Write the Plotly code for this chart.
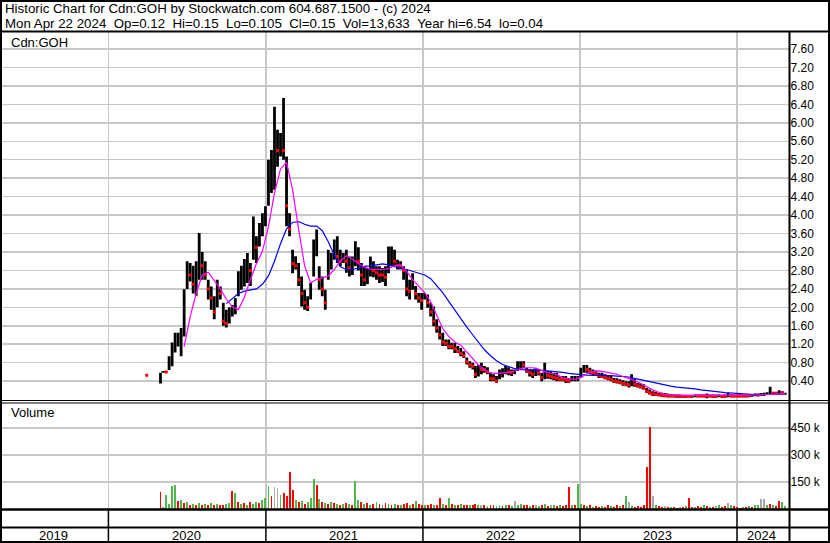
import plotly.graph_objects as go
import pandas as pd

# ---------------- data ----------------
first_week = "2020-05-01"
last_day = "2024-04-22"
n_weeks = 209

early_date = ["2020-03-30"]
early_price = [0.53]
early_vol = [2000]

lo = [
0.35,0.58,0.58,0.64,0.72,1.02,1.15,0.94,1.37,2.40,
2.56,2.30,2.25,2.60,2.60,2.60,2.17,1.95,1.74,2.00,
2.17,1.60,1.56,1.65,1.80,1.85,2.24,2.38,2.45,2.53,
2.46,3.03,2.96,3.32,3.54,3.76,4.20,4.48,4.55,5.05,
5.27,5.20,3.76,3.54,2.74,2.82,2.46,2.02,1.95,1.92,
2.17,2.67,3.11,2.38,2.24,1.95,2.60,2.82,3.03,2.96,
2.89,2.96,2.75,2.67,2.70,2.89,2.80,2.46,2.46,2.50,
2.67,2.65,2.60,2.53,2.55,2.46,2.74,2.89,2.89,2.82,
2.82,2.60,2.24,2.17,2.38,2.17,2.10,1.95,2.17,1.99,
1.80,1.59,1.45,1.30,1.16,1.16,1.09,1.09,1.01,1.01,
0.94,0.90,0.76,0.69,0.65,0.47,0.50,0.55,0.58,0.55,
0.40,0.40,0.36,0.44,0.48,0.55,0.53,0.51,0.55,0.62,
0.65,0.69,0.58,0.50,0.47,0.51,0.52,0.40,0.44,0.45,
0.44,0.42,0.40,0.40,0.40,0.36,0.36,0.40,0.40,0.40,
0.47,0.58,0.58,0.55,0.51,0.51,0.47,0.47,0.44,0.42,
0.40,0.36,0.35,0.33,0.30,0.29,0.26,0.29,0.28,0.26,
0.24,0.22,0.15,0.11,0.08,0.08,0.08,0.06,0.05,0.05,
0.05,0.05,0.04,0.04,0.04,0.04,0.05,0.04,0.05,0.05,
0.05,0.05,0.03,0.05,0.04,0.04,0.05,0.04,0.04,0.05,
0.05,0.05,0.05,0.05,0.05,0.05,0.06,0.06,0.07,0.07,
0.08,0.08,0.10,0.11,0.10,0.10,0.11,0.11,0.105]

hi = [
0.58,0.62,0.62,0.94,1.24,1.45,1.45,1.55,2.39,3.00,
2.96,2.90,3.00,3.61,3.20,3.00,2.60,2.45,2.24,2.60,
2.45,2.10,1.95,2.00,2.05,2.20,2.78,2.90,3.05,3.18,
2.96,3.97,3.54,3.83,4.04,4.19,5.20,5.41,6.35,5.85,
5.78,6.54,5.27,4.04,3.25,3.11,2.96,2.67,2.38,2.24,
2.53,3.47,3.69,2.89,2.67,2.38,3.25,3.18,3.47,3.54,
3.25,3.18,3.25,3.10,3.10,3.43,3.30,2.96,2.89,2.85,
3.10,3.00,2.89,2.89,2.85,2.89,3.32,3.32,3.25,3.03,
3.00,2.89,2.82,2.60,2.74,2.46,2.31,2.31,2.31,2.28,
2.10,2.02,1.74,1.59,1.45,1.30,1.30,1.23,1.23,1.16,
1.12,1.05,0.91,0.83,0.80,0.73,0.75,0.80,0.73,0.70,
0.58,0.55,0.51,0.65,0.68,0.73,0.70,0.65,0.65,0.83,
0.83,0.83,0.69,0.65,0.65,0.69,0.66,0.58,0.80,0.62,
0.62,0.58,0.58,0.51,0.51,0.51,0.47,0.51,0.51,0.51,
0.69,0.75,0.75,0.69,0.65,0.63,0.58,0.58,0.55,0.53,
0.51,0.47,0.46,0.44,0.42,0.40,0.40,0.55,0.45,0.36,
0.35,0.33,0.25,0.22,0.18,0.17,0.15,0.15,0.14,0.13,
0.12,0.11,0.11,0.11,0.10,0.10,0.10,0.10,0.11,0.11,
0.11,0.11,0.13,0.11,0.11,0.11,0.11,0.10,0.11,0.15,
0.11,0.11,0.11,0.11,0.11,0.11,0.11,0.12,0.13,0.13,
0.14,0.15,0.16,0.28,0.17,0.17,0.20,0.18,0.15]

close = [
0.40,0.60,0.60,0.90,1.05,1.25,1.30,1.40,2.10,2.80,
2.70,2.50,2.70,2.95,2.90,2.70,2.40,2.20,1.90,2.40,
2.30,1.70,1.65,1.85,1.95,2.10,2.50,2.70,2.80,2.90,
2.80,3.40,3.30,3.60,3.90,4.00,4.80,4.90,5.60,5.40,
5.50,5.40,4.20,3.70,2.95,2.90,2.60,2.30,2.10,2.00,
2.40,3.00,3.30,2.60,2.40,2.10,2.90,3.00,3.20,3.10,
3.00,3.05,3.00,2.85,2.90,3.20,3.00,2.70,2.60,2.70,
2.85,2.80,2.75,2.70,2.70,2.65,3.00,3.05,3.00,2.90,
2.90,2.80,2.40,2.35,2.50,2.30,2.20,2.15,2.25,2.10,
1.90,1.70,1.55,1.40,1.25,1.22,1.15,1.15,1.10,1.05,
1.00,0.95,0.82,0.75,0.72,0.55,0.65,0.65,0.65,0.60,
0.45,0.45,0.40,0.55,0.60,0.62,0.60,0.58,0.60,0.72,
0.75,0.75,0.62,0.58,0.55,0.60,0.58,0.48,0.55,0.52,
0.50,0.48,0.46,0.44,0.44,0.42,0.40,0.44,0.45,0.46,
0.60,0.68,0.65,0.62,0.58,0.56,0.52,0.50,0.48,0.46,
0.44,0.40,0.39,0.37,0.35,0.33,0.32,0.38,0.33,0.30,
0.28,0.25,0.18,0.15,0.12,0.11,0.10,0.09,0.09,0.08,
0.08,0.08,0.07,0.07,0.07,0.07,0.07,0.07,0.08,0.08,
0.08,0.08,0.08,0.08,0.07,0.07,0.08,0.07,0.07,0.09,
0.08,0.08,0.08,0.08,0.08,0.08,0.08,0.09,0.10,0.10,
0.11,0.12,0.13,0.15,0.13,0.13,0.14,0.14,0.15]

volume_k = [
93,10,80,30,129,134,45,50,35,40,
25,30,20,35,25,30,20,36,25,30,
20,25,30,35,98,89,40,30,35,25,
39,30,40,35,50,60,129,70,125,116,
80,90,70,205,107,50,40,45,30,40,
60,166,134,54,40,35,30,40,35,30,
25,30,35,30,25,155,50,40,30,35,
25,30,40,30,25,35,30,25,30,25,
20,30,35,25,30,45,30,25,20,25,
30,20,25,62,30,25,62,30,25,20,
30,25,20,25,20,30,20,25,20,15,
20,25,15,20,15,25,20,15,45,25,
30,20,25,15,20,25,15,20,30,15,
20,25,15,20,15,20,120,25,20,139,
30,20,15,20,10,15,10,15,10,20,
15,10,20,15,20,75,39,15,10,15,
12,20,236,455,71,25,15,10,15,10,
12,10,8,10,12,15,62,10,12,15,
10,20,15,12,10,15,20,12,15,36,
25,15,10,8,10,12,15,10,20,25,
54,54,20,30,25,15,45,40,14]

# r = down, g = up, k = unchanged
volume_dir = ("rgggggrgrg" "rgrgrgrgrg" "rrggrgrgrg" "rggrgggrkk" "grrrrgrgrg"
              "ggrgrgrgrg" "rgrgrggrgr" "grgrgrgrgr" "grrgrgrrgr" "rgrrgrgrgr"
              "grrgrrgkrg" "rrggrgrgkg" "grrgrkgrgr" "kgrgrrrgrg" "grgrgrrgrr"
              "grrgrgkgrr" "rrrrkgrrkr" "grrkrgrrgr" "rgrgrkgrrk" "grrrgrgrgg"
              "kkgrgrrgg")

# moving averages, read every second week
ma_fast = [
None,None,None,None,1.15,1.80,2.30,2.70,2.76,2.58,
2.40,2.18,2.01,1.95,2.22,2.60,2.95,3.22,3.75,4.48,
5.00,5.15,4.55,3.70,2.90,2.53,2.61,2.64,2.68,2.82,
3.00,3.12,3.05,2.95,2.87,2.83,2.82,2.82,2.84,2.90,
2.92,2.78,2.60,2.45,2.32,2.12,1.82,1.54,1.37,1.25,
1.18,1.04,0.88,0.75,0.64,0.58,0.57,0.575,0.59,0.62,
0.67,0.69,0.69,0.66,0.60,0.57,0.54,0.47,0.45,0.44,
0.48,0.56,0.60,0.62,0.60,0.58,0.55,0.50,0.46,0.41,
0.35,0.28,0.21,0.16,0.12,0.10,0.09,0.09,0.09,0.09,
0.09,0.09,0.09,0.09,0.09,0.09,0.09,0.09,0.09,0.10,
0.10,0.11,0.12,0.13,0.13]

ma_slow = [
None,None,None,None,None,None,None,None,None,None,
None,2.08,2.19,2.30,2.35,2.37,2.40,2.50,2.68,3.00,
3.38,3.70,3.84,3.86,3.80,3.76,3.76,3.66,3.42,3.13,
2.88,2.82,2.82,2.85,2.89,2.90,2.92,2.94,2.92,2.88,
2.85,2.82,2.78,2.74,2.70,2.62,2.46,2.32,2.13,1.94,
1.76,1.57,1.40,1.25,1.08,0.95,0.84,0.76,0.71,0.67,
0.65,0.65,0.65,0.64,0.63,0.62,0.61,0.59,0.57,0.55,
0.54,0.53,0.53,0.53,0.53,0.52,0.51,0.50,0.49,0.46,
0.43,0.40,0.37,0.34,0.31,0.29,0.27,0.26,0.25,0.23,
0.21,0.20,0.18,0.165,0.15,0.14,0.13,0.125,0.115,0.11,
0.11,0.11,0.115,0.12,0.13]

price_ticks = [0.4, 0.8, 1.2, 1.6, 2.0, 2.4, 2.8, 3.2, 3.6, 4.0,
               4.4, 4.8, 5.2, 5.6, 6.0, 6.4, 6.8, 7.2, 7.6]
vol_ticks = [150000, 300000, 450000]
vol_tick_text = ["150 k", "300 k", "450 k"]
year_starts = ["2020-01-01", "2021-01-01", "2022-01-01", "2023-01-01", "2024-01-01"]
year_labels = ["2019", "2020", "2021", "2022", "2023", "2024"]
year_label_pos = ["2019-08-26", "2020-07-01", "2021-07-01", "2022-07-01", "2023-07-01", "2024-02-26"]

header1 = "Historic Chart for Cdn:GOH by Stockwatch.com 604.687.1500 - (c) 2024"
header2 = ("Mon Apr 22 2024\u00a0\u00a0Op=0.12\u00a0\u00a0Hi=0.15\u00a0\u00a0Lo=0.105\u00a0\u00a0"
           "Cl=0.15\u00a0\u00a0Vol=13,633\u00a0\u00a0Year hi=6.54\u00a0\u00a0lo=0.04")

# ---------------- figure ----------------
W, H = 830, 543
FONT = "Arial, Liberation Sans, sans-serif"
x_range = ["2019-04-24", "2024-05-02"]
plot_right = 789.5 / W


def py(pix):
    return (H - pix) / H


dates = pd.date_range(start=first_week, end=last_day, periods=n_weeks).normalize()
ma_dates = dates[::2]

bx, by = [], []
for d, l, h in zip(dates, lo, hi):
    bx += [d, d, None]
    by += [l, h, None]

red_x, red_y = list(early_date), list(early_price)
for i in range(1, n_weeks):
    if close[i] <= close[i - 1]:
        red_x.append(dates[i])
        red_y.append(close[i])

dir_colors = {"r": "#ff0000", "g": "#4cb84c", "k": "#a8a8a8"}
vol_x = list(pd.to_datetime(early_date)) + list(dates)
vol_y = list(early_vol) + [v * 1000 for v in volume_k]
vol_c = [dir_colors["k"]] + [dir_colors[c] for c in volume_dir]

fig = go.Figure()
fig.add_trace(go.Scatter(x=bx, y=by, mode="lines", line=dict(color="black", width=2.8),
                         xaxis="x", yaxis="y", hoverinfo="skip"))
fig.add_trace(go.Scatter(x=red_x, y=red_y, mode="markers",
                         marker=dict(symbol="square", size=3, color="#ff0000", line=dict(width=0)),
                         xaxis="x", yaxis="y", hoverinfo="skip"))
fig.add_trace(go.Scatter(x=ma_dates, y=ma_slow, mode="lines", line=dict(color="#0000ff", width=1.2),
                         xaxis="x", yaxis="y", hoverinfo="skip"))
fig.add_trace(go.Scatter(x=ma_dates, y=ma_fast, mode="lines", line=dict(color="#ff00ff", width=1.2),
                         xaxis="x", yaxis="y", hoverinfo="skip"))
fig.add_trace(go.Bar(x=vol_x, y=vol_y, marker=dict(color=vol_c, line=dict(width=0)),
                     width=4.5 * 86400000, xaxis="x2", yaxis="y2", hoverinfo="skip"))

axis_common = dict(type="date", range=x_range, domain=[0, plot_right], tickvals=year_starts,
                   showticklabels=False, ticks="", showgrid=True, gridcolor="#c8c8c8",
                   gridwidth=1.5, zeroline=False, showline=False, fixedrange=True)
tick_font = dict(family=FONT, size=12, color="black")

fig.update_layout(
    width=W, height=H, margin=dict(l=0, r=0, t=0, b=0),
    paper_bgcolor="white", plot_bgcolor="white", showlegend=False, hovermode=False,
    bargap=0,
    xaxis=dict(anchor="y", **axis_common),
    xaxis2=dict(anchor="y2", matches="x", **axis_common),
    yaxis=dict(domain=[py(400.5), py(31.5)], range=[-0.02, 7.98], side="right", anchor="x",
               tickvals=price_ticks, ticktext=[f"{v:.2f}" for v in price_ticks],
               showgrid=True, gridcolor="#c8c8c8", gridwidth=1.5, zeroline=False,
               ticks="", tickfont=tick_font, fixedrange=True),
    yaxis2=dict(domain=[py(509), py(403)], range=[0, 590000], side="right", anchor="x2",
                tickvals=vol_ticks, ticktext=vol_tick_text,
                showgrid=True, gridcolor="#c8c8c8", gridwidth=1.5, zeroline=False,
                ticks="", tickfont=tick_font, fixedrange=True),
)

shapes = []
for yy, wd in [(31.5, 2), (400.5, 1.2), (403.0, 1.2), (509.5, 2.5), (527.5, 2)]:
    shapes.append(dict(type="line", xref="paper", yref="paper", x0=0, x1=1, y0=py(yy), y1=py(yy),
                       line=dict(color="black", width=wd)))
shapes.append(dict(type="line", xref="paper", yref="paper", x0=plot_right, x1=plot_right,
                   y0=0, y1=py(31.5), line=dict(color="black", width=2)))
for ys in year_starts:
    shapes.append(dict(type="line", xref="x", yref="paper", x0=ys, x1=ys, y0=0, y1=py(509.5),
                       line=dict(color="black", width=1.5)))
shapes.append(dict(type="rect", xref="paper", yref="paper", x0=0, x1=1, y0=0, y1=1,
                   line=dict(color="black", width=4), fillcolor="rgba(0,0,0,0)"))
fig.update_layout(shapes=shapes)

ann = []
txt_font = dict(family=FONT, size=13, color="black")
head_font = dict(family=FONT, size=13.3, color="black")
ann.append(dict(text=header1, xref="paper", yref="paper", x=3 / W, y=py(9), xanchor="left",
                yanchor="middle", showarrow=False, font=head_font))
ann.append(dict(text=header2, xref="paper", yref="paper", x=3 / W, y=py(23), xanchor="left",
                yanchor="middle", showarrow=False, font=head_font))
ann.append(dict(text="Cdn:GOH", xref="paper", yref="paper", x=9 / W, y=py(42), xanchor="left",
                yanchor="middle", showarrow=False, font=txt_font))
ann.append(dict(text="Volume", xref="paper", yref="paper", x=9 / W, y=py(413), xanchor="left",
                yanchor="middle", showarrow=False, font=txt_font))
for lab, pos in zip(year_labels, year_label_pos):
    ann.append(dict(text=lab, xref="x", yref="paper", x=pos, y=py(535.5), xanchor="center",
                    yanchor="middle", showarrow=False, font=txt_font))
fig.update_layout(annotations=ann)

fig.write_html("out.html", include_plotlyjs=True,
               config={"displayModeBar": False, "staticPlot": True},
               post_script="document.body.style.margin='0px';document.body.style.overflow='hidden';")
